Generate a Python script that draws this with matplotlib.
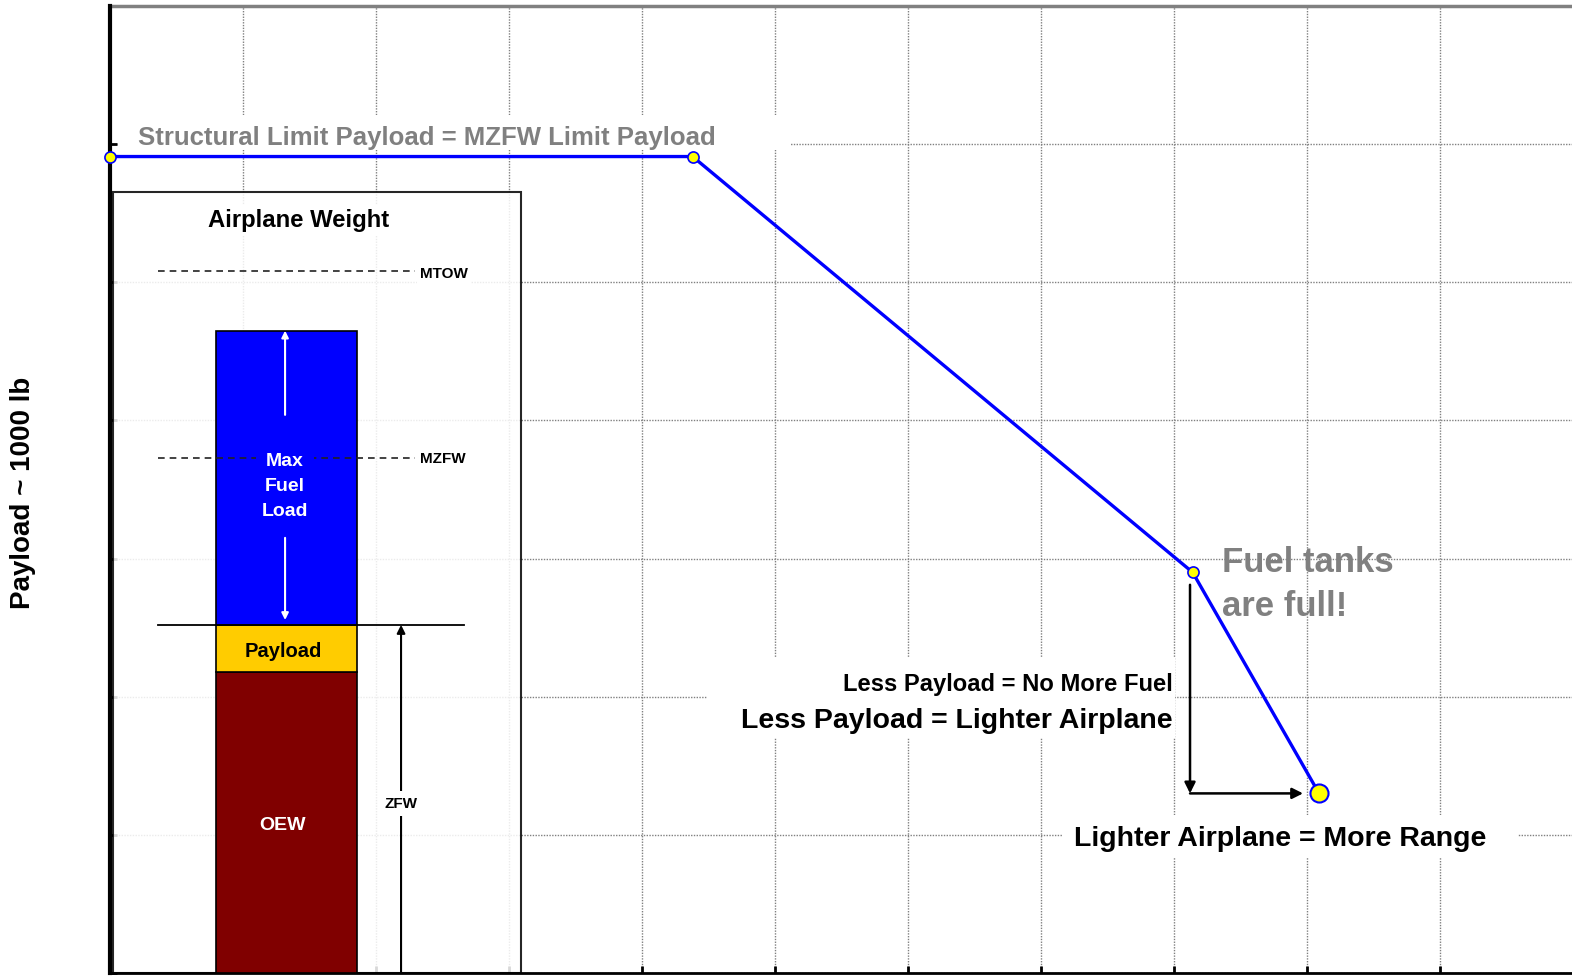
import matplotlib.pyplot as plt
from matplotlib.patches import Rectangle

plt.rcParams['font.family'] = ['Liberation Sans', 'DejaVu Sans']
plt.rcParams['font.weight'] = 'bold'

# payload-range line (range in grid units, payload ~ 1000 lb grid units)
range_pts = [0.0, 4.38, 8.14, 9.09]
payload_pts = [5.91, 5.91, 2.90, 1.30]

# airplane weight build-up
weight_parts = ['OEW', 'Payload', 'Max\nFuel\nLoad']
weight_vals = [2.18, 0.34, 2.13]
weight_colors = ['#800000', '#FFCC00', '#0000FF']
mtow = 5.08
mzfw = 3.73

fig = plt.figure(figsize=(15.72, 9.77), dpi=100)
ax = fig.add_axes([0.070, 0.0041, 0.930, 0.9898])
ax.set_xlim(0, 10.992)
ax.set_ylim(0, 7)

ax.set_xticks(range(0, 11))
ax.set_yticks(range(0, 8))
ax.set_xticklabels([])
ax.set_yticklabels([])
ax.tick_params(direction='in', length=5, width=2, color='black')
ax.grid(True, color='#808080', linestyle=(0, (1, 1)), linewidth=1.0)
ax.set_axisbelow(True)
for s in ['top', 'right']:
    ax.spines[s].set_visible(False)
ax.spines['left'].set_linewidth(3)
ax.spines['bottom'].set_linewidth(2)
ax.axhline(7, color='#808080', lw=2.5, clip_on=False)

fig.text(23 / 1572, 0.496, 'Payload ~ 1000 lb', rotation=90, fontsize=20,
         fontweight='bold', ha='center', va='center')

# white panels behind the captions
for x0, y0, x1, y1 in [(0.06, 5.958, 5.11, 6.211),
                       (4.489, 1.701, 8.008, 2.280),
                       (7.165, 0.840, 10.586, 1.144)]:
    ax.add_patch(Rectangle((x0, y0), x1 - x0, y1 - y0, facecolor='white',
                           edgecolor='none', zorder=1.5))

ax.text(0.21, 6.045, 'Structural Limit Payload = MZFW Limit Payload',
        fontsize=18.5, color='#808080', va='center', ha='left', zorder=3)

# weight panel
ax.add_patch(Rectangle((0.023, 0), 3.067, 5.655, facecolor='white', alpha=0.85,
                       edgecolor='black', lw=1.5, zorder=2))
ax.text(1.414, 5.445, 'Airplane Weight', fontsize=17.2, ha='center', va='center',
        zorder=4, bbox=dict(facecolor='white', edgecolor='none', pad=3))

bottom = 0
for name, val, col in zip(weight_parts, weight_vals, weight_colors):
    ax.bar(1.327, val, bottom=bottom, width=1.06, color=col, edgecolor='black',
           linewidth=1.2, zorder=3)
    bottom += val

zfw = weight_vals[0] + weight_vals[1]
top_fuel = zfw + weight_vals[2]

ax.plot([0.361, 2.293], [mtow, mtow], color='#222222', ls=(0, (4, 3)), lw=1.2, zorder=4)
ax.plot([0.361, 2.293], [mzfw, mzfw], color='#222222', ls=(0, (4, 3)), lw=1.2, zorder=4)
ax.text(2.33, mtow - 0.02, 'MTOW', fontsize=11, va='center', ha='left', zorder=4,
        bbox=dict(facecolor='white', edgecolor='none', pad=2))
ax.text(2.33, mzfw - 0.01, 'MZFW', fontsize=11, va='center', ha='left', zorder=4,
        bbox=dict(facecolor='white', edgecolor='none', pad=2))
ax.plot([0.361, 2.662], [zfw, zfw], color='black', lw=1.3, zorder=4)

ax.text(1.316, 3.52, weight_parts[2], fontsize=14, color='white', ha='center',
        va='center', linespacing=1.62, zorder=5,
        bbox=dict(facecolor=weight_colors[2], edgecolor='none', pad=4))
ax.annotate('', xy=(1.316, top_fuel), xytext=(1.316, 4.04),
            arrowprops=dict(arrowstyle='-|>', color='white', lw=1.5,
                            mutation_scale=10, shrinkA=0, shrinkB=0), zorder=5)
ax.annotate('', xy=(1.316, zfw + 0.035), xytext=(1.316, 3.15),
            arrowprops=dict(arrowstyle='-|>', color='white', lw=1.5,
                            mutation_scale=10, shrinkA=0, shrinkB=0), zorder=5)
ax.text(1.30, weight_vals[0] + weight_vals[1] / 2 - 0.02, weight_parts[1],
        fontsize=14.5, color='black', ha='center', va='center', zorder=5)
ax.text(1.30, 1.066, weight_parts[0], fontsize=14, color='white', ha='center',
        va='center', zorder=5)

ax.annotate('', xy=(2.188, zfw), xytext=(2.188, 0),
            arrowprops=dict(arrowstyle='-|>', color='black', lw=1.5,
                            mutation_scale=12, shrinkA=0, shrinkB=0), zorder=4)
ax.text(2.188, 1.225, 'ZFW', fontsize=11, ha='center', va='center', zorder=5,
        bbox=dict(facecolor='white', edgecolor='none', pad=4))

# payload-range line
ax.plot(range_pts, payload_pts, color='#0000FF', lw=2.4, zorder=6, clip_on=False)
ax.plot(range_pts[:3], payload_pts[:3], 'o', color='#FFFF00', mec='#0000FF',
        mew=1.2, ms=8, zorder=7, clip_on=False)
ax.plot(range_pts[3], payload_pts[3], 'o', color='#FFFF00', mec='#0000FF',
        mew=1.5, ms=13, zorder=7)

ax.text(8.36, 2.81, 'Fuel tanks\nare full!', fontsize=25, color='#808080',
        ha='left', va='center', linespacing=1.42, zorder=3)

ax.text(7.99, 2.085, 'Less Payload = No More Fuel', fontsize=17.1, ha='right',
        va='center', zorder=3)
ax.text(7.99, 1.826, 'Less Payload = Lighter Airplane', fontsize=20.5, ha='right',
        va='center', zorder=3)
ax.text(8.797, 0.972, 'Lighter Airplane = More Range', fontsize=20.5, ha='center',
        va='center', zorder=3)

ax.annotate('', xy=(8.12, payload_pts[3]), xytext=(8.12, 2.81),
            arrowprops=dict(arrowstyle='-|>', color='black', lw=1.8,
                            mutation_scale=16, shrinkA=0, shrinkB=0), zorder=5)
ax.annotate('', xy=(8.97, payload_pts[3]), xytext=(8.12, payload_pts[3]),
            arrowprops=dict(arrowstyle='-|>', color='black', lw=1.8,
                            mutation_scale=16, shrinkA=0, shrinkB=0), zorder=5)

fig.savefig('out.png', dpi=100)
